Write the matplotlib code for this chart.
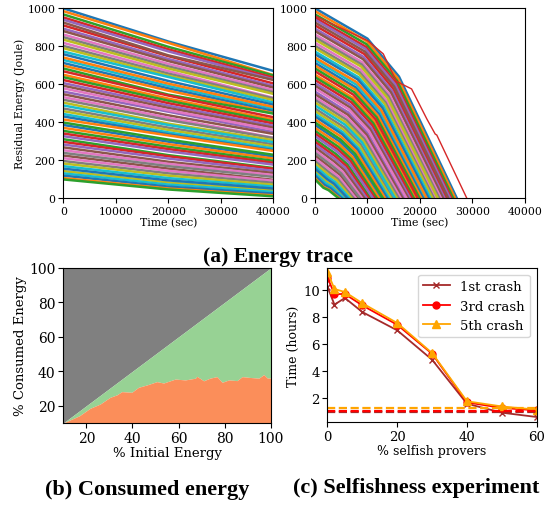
import matplotlib
matplotlib.use("Agg")
import matplotlib.pyplot as plt
import numpy as np

plt.rcParams['font.family'] = 'DejaVu Serif'

## (a) energy traces: starting energy of each prover (Joule)
e_start = [1000, 985, 968, 952, 940, 925, 910, 893, 880, 862,
           848, 835, 818, 802, 790, 772, 758, 741, 728, 712,
           698, 683, 668, 650, 637, 622, 606, 592, 578, 561,
           547, 532, 518, 503, 488, 472, 458, 443, 430, 414,
           398, 385, 370, 354, 340, 326, 310, 296, 282, 267,
           252, 238, 224, 210, 195, 182, 168, 155, 142, 130,
           118, 105, 98]
## left panel: energy at t = 20000 s and t = 40000 s
left_t = [0, 20000, 40000]
e_mid = [825, 818, 797, 784, 773, 752, 748, 733, 722, 707,
         694, 683, 669, 656, 645, 638, 617, 603, 591, 578,
         566, 545, 540, 524, 513, 500, 487, 475, 463, 455,
         436, 423, 411, 392, 385, 371, 359, 346, 336, 330,
         308, 297, 284, 270, 258, 246, 226, 220, 208, 191,
         180, 168, 155, 143, 130, 118, 105, 93, 82, 71,
         60, 50, 45]
e_end = [670, 648, 646, 635, 626, 622, 604, 591, 582, 569,
         558, 549, 528, 525, 516, 503, 492, 480, 470, 459,
         448, 445, 426, 413, 404, 393, 381, 371, 360, 348,
         338, 318, 316, 305, 294, 283, 272, 261, 252, 248,
         228, 219, 208, 196, 186, 176, 158, 154, 143, 132,
         121, 111, 96, 91, 80, 70, 60, 50, 41, 32,
         23, 14, 9]
## right panel: first knee, second knee and time the prover runs dry
r_k1_t = [10000, 9900, 9800, 9700, 9600, 9500, 9400, 9250, 9150, 9000,
          8900, 8800, 8650, 8500, 8400, 8250, 8150, 8000, 7850, 7700,
          7600, 7450, 7300, 7150, 7050, 6900, 6750, 6650, 6500, 6350,
          6250, 6100, 5950, 5850, 5700, 5550, 5400, 5250, 5150, 5000,
          4850, 4700, 4550, 4400, 4250, 4100, 3950, 3800, 3650, 3500,
          3350, 3200, 3050, 2900, 2750, 2600, 2450, 2300, 2150, 2000,
          1850, 1700, 1600]
r_k1_v = [840, 826, 811, 797, 786, 772, 759, 744, 732, 716,
          704, 693, 678, 664, 653, 637, 625, 610, 598, 584,
          572, 558, 545, 529, 518, 505, 491, 478, 466, 451,
          439, 426, 413, 400, 387, 373, 361, 348, 337, 323,
          309, 298, 285, 271, 259, 247, 233, 221, 209, 196,
          183, 171, 159, 147, 134, 123, 111, 100, 89, 79,
          69, 58, 54]
r_k2_t = [16000, 15800, 15600, 15400, 15250, 15050, 14850, 14650, 14450, 14200,
          14000, 13850, 13600, 13400, 13250, 13000, 12800, 12600, 12400, 12150,
          11950, 11750, 11550, 11300, 11100, 10900, 10650, 10450, 10250, 10000,
          9800, 9600, 9350, 9150, 8950, 8700, 8500, 8250, 8050, 7850,
          7600, 7400, 7150, 6900, 6700, 6450, 6200, 6000, 5750, 5500,
          5250, 5000, 4800, 4550, 4300, 4100, 3850, 3600, 3400, 3150,
          2950, 2700, 2600]
r_k2_v = [640, 630, 619, 608, 600, 589, 578, 566, 557, 545,
          536, 527, 516, 505, 497, 485, 476, 464, 455, 444,
          435, 425, 414, 403, 394, 384, 373, 364, 354, 343,
          334, 324, 314, 304, 294, 284, 274, 264, 256, 246,
          235, 226, 216, 206, 197, 188, 177, 168, 159, 149,
          139, 130, 121, 111, 102, 94, 84, 76, 68, 60,
          52, 44, 41]
r_death = [27000, 26680, 26310, 25960, 25700, 25370, 25040, 24660, 24380, 23980,
           23660, 23370, 22990, 22630, 22360, 21950, 21630, 21240, 20940, 20570,
           20250, 19900, 19550, 19130, 18820, 18470, 18080, 17750, 17410, 17000,
           16670, 16300, 15950, 15580, 15210, 14810, 14460, 14080, 13750, 13340,
           12930, 12590, 12200, 11770, 11400, 11020, 10590, 10200, 9810, 9390,
           8960, 8560, 8160, 7750, 7320, 6950, 6540, 6160, 5780, 5410,
           5050, 4640, 4430]
## the one straggler
out_t = [0, 10000, 13000, 15500, 18400, 21300, 22900, 23200, 28900]
out_v = [960, 830, 760, 615, 575, 417, 337, 332, 0]

## (b) consumed energy
init_energy = [10, 17, 21.6, 26, 30.3, 33.2, 35.4, 39.7, 42.6, 46.3,
               50.6, 53.5, 58.6, 62.9, 67.3, 68, 70.9, 73.8, 76.7, 78.9,
               81.8, 85.4, 87.6, 90.5, 94.8, 97, 98.5, 100]
consumed = [10, 14.2, 18.5, 21, 24.9, 26.3, 28.2, 27.8, 30.7, 32.1,
            34, 33.2, 35.5, 35, 36, 37.1, 34.5, 36.1, 36.9, 33.6,
            35, 34.6, 36.9, 36.5, 36, 38.1, 36.1, 36.1]

## (c) selfishness
selfish = [0, 2, 5, 10, 20, 30, 40, 50, 60]
crash1 = [10.2, 8.9, 9.39, 8.35, 7.0, 4.83, 1.58, 0.92, 0.6]
crash3 = [10.9, 9.68, 9.68, 8.84, 7.41, 5.27, 1.68, 1.27, 1.09]
crash5 = [11.3, 10.05, 9.83, 9.0, 7.54, 5.32, 1.76, 1.38, 1.14]
base1, base3, base5 = 0.96, 1.03, 1.27

fig = plt.figure(figsize=(5.48, 5.06), dpi=100)

n = len(e_start)
order = [(k * 23) % n for k in range(n)]  # mix the colour cycle a bit

#### (a) left
ax1 = fig.add_axes([0.1155, 0.6067, 0.3832, 0.3749])
for i in order:
    ax1.plot(left_t, [e_start[i], e_mid[i], e_end[i]], lw=1.8)
ax1.set_xlim(0, 40000)
ax1.set_ylim(0, 1000)
ax1.set_xticks([0, 10000, 20000, 30000, 40000])
ax1.set_xlabel('Time (sec)', fontsize=7.8, labelpad=1)
ax1.set_ylabel('Residual Energy (Joule)', fontsize=7.8, labelpad=2)
ax1.tick_params(labelsize=7.8, pad=2)

#### (a) right
ax2 = fig.add_axes([0.5748, 0.6067, 0.3832, 0.3749])
for i in order:
    ax2.plot([0, r_k1_t[i], r_k2_t[i], r_death[i]],
             [e_start[i], r_k1_v[i], r_k2_v[i], 0], lw=1.8)
ax2.plot(out_t, out_v, color='tab:red', lw=1)
ax2.set_xlim(0, 40000)
ax2.set_ylim(0, 1000)
ax2.set_xticks([0, 10000, 20000, 30000, 40000])
ax2.set_xlabel('Time (sec)', fontsize=7.8, labelpad=1)
ax2.tick_params(labelsize=7.8, pad=2)

#### (b)
ax3 = fig.add_axes([0.1155, 0.1621, 0.3785, 0.3063])
xb = np.array(init_energy)
ax3.fill_between(xb, xb, 100, color='#808080', lw=0)
ax3.fill_between(xb, consumed, xb, color='#97d294', lw=0)
ax3.fill_between(xb, 10, consumed, color='#fb8e5a', lw=0)
ax3.set_xlim(10, 100)
ax3.set_ylim(10, 100)
ax3.set_xticks([20, 40, 60, 80, 100])
ax3.set_yticks([20, 40, 60, 80, 100])
ax3.set_xlabel('% Initial Energy', fontsize=9.5, labelpad=1)
ax3.set_ylabel('% Consumed Energy', fontsize=9.5, labelpad=2)
ax3.tick_params(labelsize=10, pad=2)

#### (c)
ax4 = fig.add_axes([0.5976, 0.1640, 0.3818, 0.3043])
ax4.plot(selfish, crash1, color='brown', marker='x', ms=5, lw=1.3, label='1st crash')
ax4.plot(selfish, crash3, color='red', marker='o', ms=5, lw=1.3, label='3rd crash')
ax4.plot(selfish, crash5, color='orange', marker='^', ms=5.5, lw=1.3, label='5th crash')
ax4.axhline(base1, color='brown', ls='--', lw=1.6)
ax4.axhline(base3, color='red', ls='--', lw=1.6)
ax4.axhline(base5, color='orange', ls='--', lw=1.6)
ax4.set_xlim(0, 60)
ax4.set_ylim(0.23, 11.6)
ax4.set_xticks([0, 20, 40, 60])
ax4.set_yticks([2, 4, 6, 8, 10])
ax4.set_xlabel('% selfish provers', fontsize=9, labelpad=1)
ax4.set_ylabel('Time (hours)', fontsize=9, labelpad=2)
ax4.tick_params(labelsize=9.5, pad=2)
ax4.legend(loc='upper right', fontsize=9.5, handlelength=2)

## captions
fig.text(0.507, 0.492, '(a) Energy trace', ha='center', va='center',
         fontsize=15.5, fontweight='bold', family='Liberation Serif')
fig.text(0.269, 0.032, '(b) Consumed energy', ha='center', va='center',
         fontsize=16, fontweight='bold', family='Liberation Serif')
fig.text(0.759, 0.036, '(c) Selfishness experiment', ha='center', va='center',
         fontsize=16, fontweight='bold', family='Liberation Serif')

fig.savefig('out.png', dpi=100)
